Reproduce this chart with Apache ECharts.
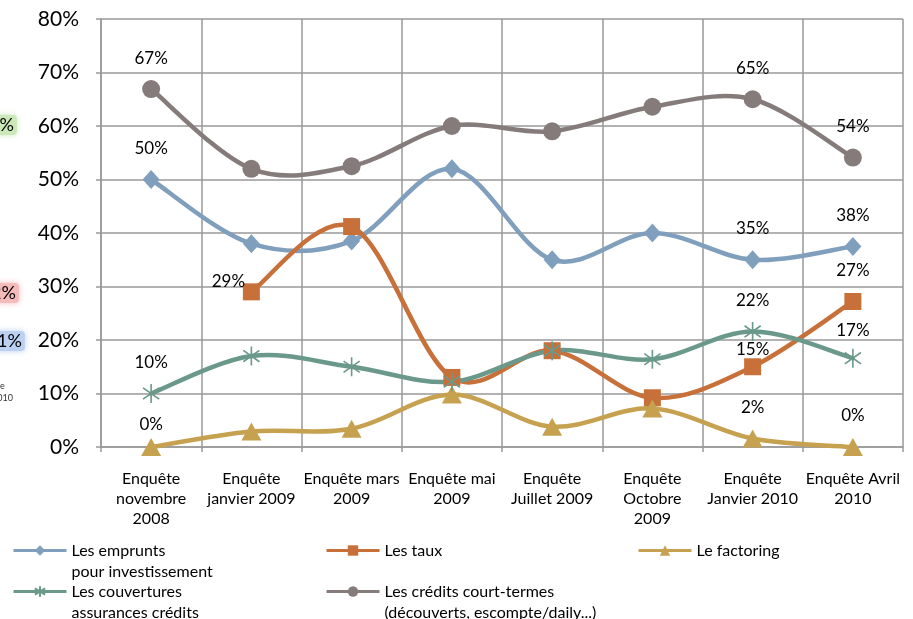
<!DOCTYPE html>
<html>
<head>
<meta charset="utf-8">
<script src="https://cdn.jsdelivr.net/npm/echarts@6/dist/echarts.min.js"></script>
<style>
  html, body { margin: 0; padding: 0; background: #fff; }
  #chart { width: 913px; height: 619px; }
</style>
</head>
<body>
<div id="chart"></div>
<script>
// Survey waves (x axis)
var categories = [
  'Enquête\nnovembre\n2008',
  'Enquête\njanvier 2009',
  'Enquête mars\n2009',
  'Enquête mai\n2009',
  'Enquête\nJuillet 2009',
  'Enquête\nOctobre\n2009',
  'Enquête\nJanvier 2010',
  'Enquête Avril\n2010'
];

// Share of respondents (%) per topic
var emprunts    = [50, 38, 38.5, 52, 35, 40, 35, 37.5];
var taux        = [null, 29, 41.2, 13, 18, 9.2, 15, 27.2];
var factoring   = [0, 2.9, 3.4, 9.8, 3.8, 7.2, 1.6, 0];
var couvertures = [10, 17, 15, 12.2, 18, 16.4, 21.6, 16.6];
var credits     = [66.9, 52, 52.5, 60, 59, 63.6, 65, 54.1];

var yTicks = [0, 10, 20, 30, 40, 50, 60, 70, 80];

var seriesNames = [
  'Les emprunts\npour investissement',
  'Les taux',
  'Le factoring',
  'Les couvertures\nassurances crédits',
  'Les crédits court-termes\n(découverts, escompte/daily...)'
];

var COLORS = ['#7f9fbd', '#c8703a', '#c6a150', '#6a998b', '#867b7b'];
var FONT = 'Lato';
var LINE_W = 4.5;

// asterisk marker drawn as strokes
var ASTERISK = 'path://M0 -10 L0 10 M-8.5 -6 L8.5 6 M-8.5 6 L8.5 -6';

// labelled points: index -> label offset
function labelled(values, spec) {
  return values.map(function (v, i) {
    if (!(i in spec) || v === null) return v;
    return {
      value: v,
      label: {
        show: true,
        position: 'inside',
        offset: spec[i],
        formatter: Math.round(v) + '%'
      }
    };
  });
}

// markers + labels (the connecting curve is drawn by curveSeries)
function markerSeries(name, data, color, symbol, size, extraItem) {
  return {
    name: name,
    type: 'line',
    data: data,
    symbol: symbol,
    symbolSize: size,
    symbolKeepAspect: true,
    showAllSymbol: true,
    lineStyle: { color: color, width: LINE_W, opacity: 0 },
    itemStyle: Object.assign({ color: color }, extraItem || {}),
    label: { show: false, color: '#000', fontFamily: FONT, fontSize: 17 },
    emphasis: { disabled: true },
    z: 3
  };
}

// Cardinal (Catmull-Rom) smoothed curve through the points, one bezier per segment
function curveSeries(values, color) {
  return {
    type: 'custom',
    data: values.map(function (v, i) { return [i, v]; }),
    encode: { x: 0, y: 1 },
    silent: true,
    z: 2,
    renderItem: function (params, api) {
      var i = params.dataIndex;
      var n = values.length;
      if (i >= n - 1 || values[i] === null || values[i + 1] === null) return null;
      function pt(k) { return api.coord([k, values[k]]); }
      var p1 = pt(i), p2 = pt(i + 1);
      var p0 = (i > 0 && values[i - 1] !== null) ? pt(i - 1) : p1;
      var p3 = (i + 2 < n && values[i + 2] !== null) ? pt(i + 2) : p2;
      return {
        type: 'bezierCurve',
        shape: {
          x1: p1[0], y1: p1[1],
          x2: p2[0], y2: p2[1],
          cpx1: p1[0] + (p2[0] - p0[0]) / 6, cpy1: p1[1] + (p2[1] - p0[1]) / 6,
          cpx2: p2[0] - (p3[0] - p1[0]) / 6, cpy2: p2[1] - (p3[1] - p1[1]) / 6
        },
        style: { stroke: color, lineWidth: LINE_W, fill: null, lineCap: 'round' }
      };
    }
  };
}

var TOP = [0, -31];

var chart = echarts.init(document.getElementById('chart'), null, { renderer: 'canvas' });

// one legend per entry; multi-line names keep their first line level with the icon
function legendAt(name, left, top, twoLines) {
  return {
    data: [name],
    left: left,
    top: top,
    padding: 0,
    itemWidth: 53,
    itemHeight: 13,
    selectedMode: false,
    lineStyle: { width: 3, opacity: 1 },
    formatter: function (n) { return twoLines ? '\n' + n : n; },
    textStyle: {
      fontFamily: FONT,
      fontSize: 16,
      color: '#000',
      lineHeight: 21
    }
  };
}

var option = {
  animation: false,
  backgroundColor: '#fff',
  grid: { left: 101, right: 10, top: 19, bottom: 172, containLabel: false },
  xAxis: {
    type: 'category',
    data: categories,
    boundaryGap: true,
    axisLine: { show: true, lineStyle: { color: '#999', width: 1.5 } },
    axisTick: { show: true, length: 5, lineStyle: { color: '#999', width: 1.5 } },
    splitLine: { show: true, lineStyle: { color: '#999', width: 1.5 } },
    axisLabel: {
      interval: 0,
      margin: 22,
      color: '#000',
      fontFamily: FONT,
      fontSize: 16,
      lineHeight: 20,
      align: 'center'
    }
  },
  yAxis: {
    type: 'value',
    min: yTicks[0],
    max: yTicks[yTicks.length - 1],
    interval: 10,
    axisLine: { show: true, lineStyle: { color: '#999', width: 1.5 } },
    axisTick: { show: true, length: 5, lineStyle: { color: '#999', width: 1.5 } },
    splitLine: { show: true, lineStyle: { color: '#999', width: 1.5 } },
    axisLabel: {
      margin: 22,
      color: '#000',
      fontFamily: FONT,
      fontSize: 21,
      formatter: '{value}%'
    }
  },
  legend: [
    legendAt(seriesNames[0], 12, 519, true),
    legendAt(seriesNames[1], 325, 540, false),
    legendAt(seriesNames[2], 637, 540, false),
    legendAt(seriesNames[3], 12, 560, true),
    legendAt(seriesNames[4], 325, 560, true)
  ],
  series: [
    curveSeries(emprunts, COLORS[0]),
    curveSeries(taux, COLORS[1]),
    curveSeries(factoring, COLORS[2]),
    curveSeries(couvertures, COLORS[3]),
    curveSeries(credits, COLORS[4]),
    markerSeries(seriesNames[0], labelled(emprunts, { 0: TOP, 6: TOP, 7: TOP }),
      COLORS[0], 'diamond', [17, 19]),
    markerSeries(seriesNames[1], labelled(taux, { 1: [-23, -10], 6: [0, -17], 7: TOP }),
      COLORS[1], 'rect', 17),
    markerSeries(seriesNames[2], labelled(factoring, { 0: [0, -22], 6: TOP, 7: TOP }),
      COLORS[2], 'triangle', [20, 18]),
    markerSeries(seriesNames[3], labelled(couvertures, { 0: TOP, 6: TOP, 7: [0, -28] }),
      COLORS[3], ASTERISK, 19, { borderColor: COLORS[3], borderWidth: 1.6 }),
    markerSeries(seriesNames[4], labelled(credits, { 0: TOP, 6: TOP, 7: TOP }),
      COLORS[4], 'circle', 18)
  ],
  // fragments of a neighbouring figure cut by the left edge
  graphic: [
    { type: 'text', left: -14, top: 115, z: 10,
      style: { text: '2%', fontFamily: FONT, fontSize: 18, fill: '#000',
        backgroundColor: '#cbe8b8', padding: [1, 3], borderRadius: 4,
        shadowColor: '#cbe8b8', shadowBlur: 6 } },
    { type: 'text', left: -12, top: 283, z: 10,
      style: { text: '2%', fontFamily: FONT, fontSize: 18, fill: '#000',
        backgroundColor: '#f5baba', padding: [1, 3], borderRadius: 4,
        shadowColor: '#f5baba', shadowBlur: 6 } },
    { type: 'text', left: -6, top: 331, z: 10,
      style: { text: '1%', fontFamily: FONT, fontSize: 18, fill: '#000',
        backgroundColor: '#bcd0f2', padding: [1, 3], borderRadius: 4,
        shadowColor: '#bcd0f2', shadowBlur: 6 } },
    { type: 'text', left: -8, top: 380, z: 10,
      style: { text: 'ête\n2010', fontFamily: FONT, fontSize: 9, lineHeight: 12,
        fill: '#333', align: 'left' } }
  ]
};

chart.setOption(option);
</script>
</body>
</html>
